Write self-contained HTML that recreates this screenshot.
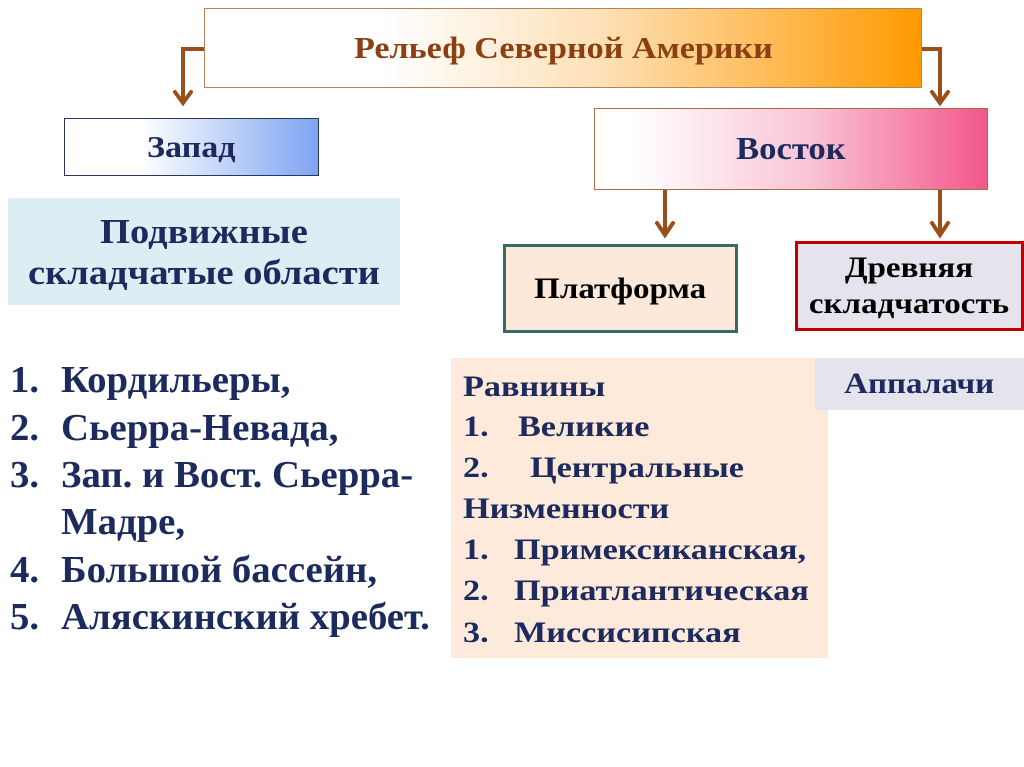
<!DOCTYPE html>
<html><head><meta charset="utf-8"><style>
body{margin:0;width:1024px;height:767px;background:#fff;position:relative;overflow:hidden;font-family:"Liberation Serif","Noto Serif CJK SC",serif;font-weight:bold;}
.b{position:absolute;box-sizing:border-box;display:flex;align-items:center;justify-content:center;text-align:center;}
.s{display:inline-block;transform:scaleX(1.1);white-space:nowrap;}
.l{position:absolute;white-space:nowrap;transform-origin:left center;color:#1c2a5e;line-height:1;}
.L{font-size:38px;transform:scaleX(1.02) translateY(-50%);}
.R{font-size:30px;transform:scaleX(1.14) translateY(-50%);}
</style></head><body>
<svg width="1024" height="767" style="position:absolute;left:0;top:0">
<g stroke="#9a4e1a" stroke-width="4" fill="none">
<polyline points="205,49 183,49 183,102"/>
<polyline points="921,49 940,49 940,102"/>
<line x1="665" y1="189" x2="665" y2="234"/>
<line x1="940" y1="189" x2="940" y2="234"/>
</g>
<g stroke="#9a4e1a" stroke-width="4" fill="none" stroke-linecap="round">
<polyline points="175,92 183,103 191,92"/>
<polyline points="932,92 940,103 948,92"/>
<polyline points="657,223 665,235 673,223"/>
<polyline points="932,223 940,235 948,223"/>
</g>
</svg>
<div class="b" style="left:204px;top:8px;width:718px;height:80px;border:1px solid #b5835a;background:linear-gradient(90deg,#fff 25%,#fde1b8 55%,#ff9a00 100%);color:#8b3f12;font-size:31px;"><span class="s">Рельеф Северной Америки</span></div>
<div class="b" style="left:64px;top:118px;width:255px;height:58px;border:1px solid #2a3560;background:linear-gradient(90deg,#fff 30%,#7ea4f2 100%);color:#1c2a5e;font-size:31px;"><span class="s">Запад</span></div>
<div class="b" style="left:594px;top:108px;width:394px;height:82px;border:1px solid #a86a4a;background:linear-gradient(90deg,#fff 10%,#f9c3d6 55%,#f2578a 100%);color:#1c2a5e;font-size:31.5px;"><span class="s">Восток</span></div>
<div class="b" style="left:8px;top:198px;width:392px;height:107px;background:#dbeef3;color:#1c2a5e;font-size:35px;line-height:41px;"><span class="s">Подвижные<br>складчатые области</span></div>
<div class="b" style="left:503px;top:244px;width:235px;height:89px;border:3px solid #336b68;background:#fde9d9;color:#000;font-size:30px;"><span class="s">Платформа</span></div>
<div class="b" style="left:795px;top:241px;width:229px;height:90px;border:3px solid #c00000;background:#e4e3ee;color:#000;font-size:30px;line-height:36px;"><span class="s">Древняя<br>складчатость</span></div>
<div class="b" style="left:451px;top:358px;width:377px;height:300px;background:#fdeada;"></div>
<div class="b" style="left:815px;top:358px;width:209px;height:52px;background:#e5e4ee;color:#1c2a5e;font-size:30px;"><span class="s">Аппалачи</span></div>

<div class="l R" style="left:463px;top:387px">Равнины</div>
<div class="l R" style="left:463px;top:427px">1.</div><div class="l R" style="left:518px;top:427px">Великие</div>
<div class="l R" style="left:463px;top:468px">2.</div><div class="l R" style="left:530px;top:468px">Центральные</div>
<div class="l R" style="left:463px;top:509px">Низменности</div>
<div class="l R" style="left:463px;top:550px">1.</div><div class="l R" style="left:514px;top:550px">Примексиканская,</div>
<div class="l R" style="left:463px;top:591px">2.</div><div class="l R" style="left:514px;top:591px">Приатлантическая</div>
<div class="l R" style="left:463px;top:633px">3.</div><div class="l R" style="left:514px;top:633px">Миссисипская</div>

<div class="l L" style="left:10px;top:380px">1.</div><div class="l L" style="left:61px;top:380px">Кордильеры,</div>
<div class="l L" style="left:10px;top:428px">2.</div><div class="l L" style="left:61px;top:428px">Сьерра-Невада,</div>
<div class="l L" style="left:10px;top:475px">3.</div><div class="l L" style="left:61px;top:475px">Зап. и Вост. Сьерра-</div>
<div class="l L" style="left:61px;top:522px">Мадре,</div>
<div class="l L" style="left:10px;top:570px">4.</div><div class="l L" style="left:61px;top:570px">Большой бассейн,</div>
<div class="l L" style="left:10px;top:617px">5.</div><div class="l L" style="left:61px;top:617px">Аляскинский хребет.</div>
</body></html>
